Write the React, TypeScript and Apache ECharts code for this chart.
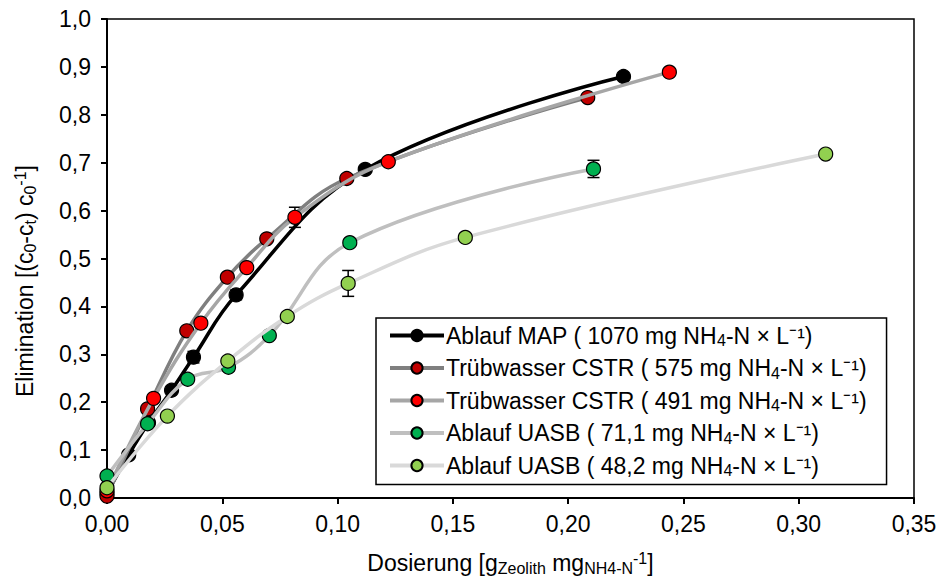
import React, { useEffect, useRef } from "react";
import * as echarts from "echarts";

const FONT = "'Liberation Sans', Arial, sans-serif";

const seriesNames = [
  "Ablauf MAP ( 1070 mg NH4-N × L⁻¹)",
  "Trübwasser CSTR ( 575 mg NH4-N × L⁻¹)",
  "Trübwasser CSTR ( 491 mg NH4-N × L⁻¹)",
  "Ablauf UASB ( 71,1 mg NH4-N × L⁻¹)",
  "Ablauf UASB ( 48,2 mg NH4-N × L⁻¹)",
];

const mapX = [0, 0.0094, 0.018, 0.028, 0.0375, 0.056, 0.112, 0.224];
const mapY = [0.01, 0.09, 0.157, 0.225, 0.294, 0.424, 0.686, 0.88];
const mapErr = [0, 0, 0, 0, 0.012, 0.01, 0, 0];

const cstr575X = [0, 0.0176, 0.0346, 0.0522, 0.0693, 0.104, 0.2085];
const cstr575Y = [0.004, 0.186, 0.349, 0.461, 0.541, 0.667, 0.836];
const cstr575Err = [0, 0, 0, 0, 0, 0, 0];

const cstr491X = [0, 0.0202, 0.0407, 0.0606, 0.0815, 0.122, 0.2439];
const cstr491Y = [0.015, 0.208, 0.365, 0.481, 0.586, 0.702, 0.889];
const cstr491Err = [0, 0, 0, 0, 0.021, 0, 0];

const uasb71X = [0, 0.0176, 0.035, 0.0527, 0.0704, 0.1053, 0.211];
const uasb71Y = [0.046, 0.155, 0.248, 0.273, 0.339, 0.533, 0.687];
const uasb71Err = [0, 0, 0, 0.008, 0, 0, 0.018];

const uasb48X = [0, 0.0262, 0.0524, 0.0782, 0.1046, 0.1554, 0.3117];
const uasb48Y = [0.0215, 0.171, 0.286, 0.379, 0.448, 0.544, 0.718];
const uasb48Err = [0, 0, 0, 0, 0.027, 0, 0];

const xTicks = { min: 0, max: 0.35, interval: 0.05 };
const yTicks = { min: 0, max: 1, interval: 0.1 };

const markerColors = ["#000000", "#c00000", "#ff0000", "#00b050", "#92d050"];
const lineColors = ["#000000", "#7f7f7f", "#a6a6a6", "#bfbfbf", "#d9d9d9"];

const allX = [mapX, cstr575X, cstr491X, uasb71X, uasb48X];
const allY = [mapY, cstr575Y, cstr491Y, uasb71Y, uasb48Y];
const allErr = [mapErr, cstr575Err, cstr491Err, uasb71Err, uasb48Err];

export default function App() {
  const ref = useRef<HTMLDivElement>(null);
  useEffect(() => {
    if (!ref.current) return;
    const chart = echarts.init(ref.current, null, { renderer: "svg" });

    const lineSeries = seriesNames.map((name, i) => ({
      name,
      type: "line",
      data: allX[i].map((x, j) => [x, allY[i][j]]),
      smooth: 0.4,
      symbol: "circle",
      symbolSize: 14,
      z: 2 + i,
      lineStyle: { color: lineColors[i], width: 3.5 },
      itemStyle: { color: markerColors[i], borderColor: "#000", borderWidth: 1.2 },
      emphasis: { disabled: true },
    }));

    const errData: number[][] = [];
    allX.forEach((xs, i) =>
      xs.forEach((x, j) => {
        const e = allErr[i][j];
        if (e > 0) errData.push([x, allY[i][j] - e, allY[i][j] + e]);
      })
    );

    const errSeries = {
      type: "custom",
      z: 1,
      data: errData,
      encode: { x: 0, y: [1, 2] },
      renderItem: (params: any, api: any) => {
        const x = api.value(0);
        const lo = api.coord([x, api.value(1)]);
        const hi = api.coord([x, api.value(2)]);
        const w = 6;
        const st = { stroke: "#000", lineWidth: 1.5 };
        return {
          type: "group",
          children: [
            { type: "line", shape: { x1: lo[0], y1: lo[1], x2: hi[0], y2: hi[1] }, style: st },
            { type: "line", shape: { x1: lo[0] - w, y1: lo[1], x2: lo[0] + w, y2: lo[1] }, style: st },
            { type: "line", shape: { x1: hi[0] - w, y1: hi[1], x2: hi[0] + w, y2: hi[1] }, style: st },
          ],
        };
      },
    };

    const rich = {
      t: { fontSize: 23, fontFamily: FONT, color: "#000", lineHeight: 26 },
      s: { fontSize: 16, fontFamily: FONT, color: "#000", lineHeight: 14, verticalAlign: "bottom" },
      p: { fontSize: 16, fontFamily: FONT, color: "#000", lineHeight: 14, verticalAlign: "top" },
    };

    const axisCommon = {
      axisLine: { show: true, lineStyle: { color: "#000", width: 2 } },
      axisTick: { show: true, inside: false, length: 6, lineStyle: { color: "#000", width: 2 } },
      splitLine: { show: false },
    };

    chart.setOption({
      animation: false,
      textStyle: { fontFamily: FONT },
      grid: { left: 107, right: 27, top: 19, bottom: 85, show: true, borderColor: "#000", borderWidth: 1.5 },
      xAxis: {
        type: "value",
        ...xTicks,
        ...axisCommon,
        axisLabel: {
          fontSize: 23,
          color: "#000",
          fontFamily: FONT,
          margin: 14,
          formatter: (v: number) => v.toFixed(2).replace(".", ","),
        },
        name: "{t|Dosierung [g}{s|Zeolith}{t| mg}{s|NH4-N}{p|-1}{t|]}",
        nameLocation: "middle",
        nameGap: 52,
        nameTextStyle: { rich },
      },
      yAxis: {
        type: "value",
        ...yTicks,
        ...axisCommon,
        axisLabel: {
          fontSize: 23,
          color: "#000",
          fontFamily: FONT,
          margin: 16,
          formatter: (v: number) => v.toFixed(1).replace(".", ","),
        },
      },
      graphic: [
        {
          type: "text",
          x: 25,
          y: 281,
          rotation: Math.PI / 2,
          style: {
            text: "{t|Elimination [(c}{s|0}{t|-c}{s|t}{t|) c}{s|0}{p|-1}{t|]}",
            rich,
            align: "center",
            verticalAlign: "middle",
          },
        },
      ],
      legend: {
        data: seriesNames,
        orient: "vertical",
        left: 376,
        top: 318,
        padding: [6, 20, 6, 12],
        itemGap: 8,
        itemWidth: 54,
        itemHeight: 14,
        backgroundColor: "#fff",
        borderColor: "#000",
        borderWidth: 1.5,
        borderRadius: 0,
        lineStyle: { width: 4 },
        textStyle: { rich, padding: [0, 0, 0, -3] },
        formatter: (name: string) => {
          const [a, b] = name.split("NH4");
          return `{t|${a}NH}{s|4}{t|${b}}`;
        },
      },
      series: [...lineSeries, errSeries],
    });
    return () => chart.dispose();
  }, []);
  return (
    <div
      ref={ref}
      style={{ position: "absolute", left: 0, top: 0, width: 941, height: 583, background: "#fff" }}
    />
  );
}
